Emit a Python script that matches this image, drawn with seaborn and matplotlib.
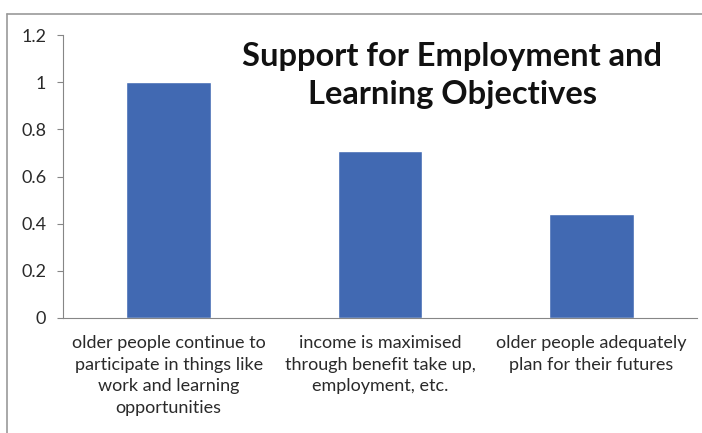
import matplotlib
matplotlib.use("Agg")
import matplotlib.pyplot as plt
import seaborn as sns
import pandas as pd
from matplotlib.lines import Line2D

categories = [
    "older people continue to\nparticipate in things like\nwork and learning\nopportunities",
    "income is maximised\nthrough benefit take up,\nemployment, etc.",
    "older people adequately\nplan for their futures",
]
values = [1.0, 0.71, 0.44]
yticks = [0, 0.2, 0.4, 0.6, 0.8, 1, 1.2]
ytick_labels = ["0", "0.2", "0.4", "0.6", "0.8", "1", "1.2"]
title = "Support for Employment and\nLearning Objectives"

sns.set_style("white")
plt.rcParams["font.family"] = ["Lato", "DejaVu Sans"]

df = pd.DataFrame({"cat": categories, "val": values})

fig = plt.figure(figsize=(7.02, 4.33), dpi=100)
ax = fig.add_axes([0.0897, 0.2656, 0.9033, 0.6535])

sns.barplot(data=df, x="cat", y="val", color="#4169B2", saturation=1,
            width=0.4, ax=ax)

ax.set_xlim(-0.5, 2.5)
ax.set_ylim(0, 1.2)
ax.set_yticks(yticks)
ax.set_yticklabels(ytick_labels, fontsize=13, color="#2a2a2a")
ax.set_xlabel("")
ax.set_ylabel("")
ax.tick_params(axis="x", length=0, labelsize=13, labelcolor="#2a2a2a", pad=12)
for lbl in ax.get_xticklabels():
    lbl.set_linespacing(1.45)
ax.set_xticks([0.5, 1.5, 2.5], minor=True)
ax.tick_params(axis="x", which="minor", length=5, color="#868686", width=0.8)
ax.tick_params(axis="y", length=4, color="#868686", width=0.8, left=True, pad=8)

for s in ["top", "right"]:
    ax.spines[s].set_visible(False)
for s in ["left", "bottom"]:
    ax.spines[s].set_color("#868686")
    ax.spines[s].set_linewidth(0.8)

fig.text(0.644, 0.826, title, ha="center", va="center", fontsize=23.5,
         fontweight="bold", color="#111111", linespacing=1.38)

# outer chart frame (top and left edges visible in the crop)
fig.add_artist(Line2D([7 / 702, 1], [1 - 14 / 433] * 2, transform=fig.transFigure,
                      color="#9a9a9a", lw=1.2))
fig.add_artist(Line2D([7 / 702] * 2, [0, 1 - 14 / 433], transform=fig.transFigure,
                      color="#9a9a9a", lw=1.2))

fig.savefig("out.png", dpi=100)
